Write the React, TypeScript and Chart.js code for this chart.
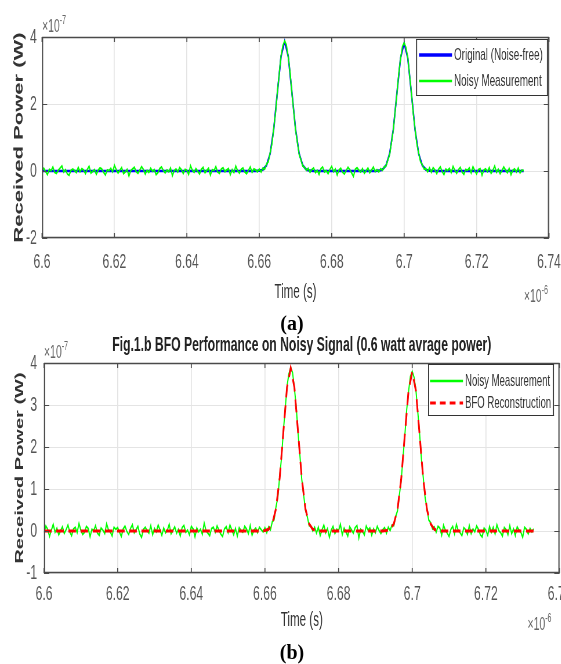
import React, { useEffect, useRef } from 'react';
import { Chart, registerables } from 'chart.js';

Chart.register(...registerables);

// ---------- data (power in units of 1e-7 W, time in units of 1e-6 s) ----------
const T_START = 6.6;
const STEP_NOISY = 0.0005;
const STEP_CLEAN = 0.001;

const xTickValues = [6.6, 6.62, 6.64, 6.66, 6.68, 6.7, 6.72, 6.74];
const xTickLabels = ['6.6', '6.62', '6.64', '6.66', '6.68', '6.7', '6.72', '6.74'];
const yTickValuesA = [-2, 0, 2, 4];
const yTickLabelsA = ['-2', '0', '2', '4'];
const yTickValuesB = [-1, 0, 1, 2, 3, 4];
const yTickLabelsB = ['-1', '0', '1', '2', '3', '4'];

const seriesLabelsA = ['Original (Noise-free)', 'Noisy Measurement'];
const seriesLabelsB = ['Noisy Measurement', 'BFO Reconstruction'];
const titleB = 'Fig.1.b BFO Performance on Noisy Signal (0.6 watt avrage power)';

const originalA = [
  0, 0, 0, 0, 0, 0, 0, 0, 0, 0,
  0, 0, 0, 0, 0, 0, 0, 0, 0, 0,
  0, 0, 0, 0, 0, 0, 0, 0, 0, 0,
  0, 0, 0, 0, 0, 0, 0, 0, 0, 0,
  0, 0, 0, 0, 0, 0, 0, 0, 0, 0,
  0, 0, 0, 0, 0, 0, 0, 0, 0, 0,
  0.01, 0.04, 0.17, 0.52, 1.26, 2.35, 3.42, 3.87, 3.42, 2.35, 1.26, 0.52, 0.17, 0.04, 0.01,
  0, 0, 0, 0, 0, 0, 0, 0, 0, 0, 0, 0, 0, 0, 0, 0, 0, 0,
  0.01, 0.04, 0.17, 0.52, 1.24, 2.32, 3.37, 3.82, 3.37, 2.32, 1.24, 0.52, 0.17, 0.04, 0.01,
  0, 0, 0, 0, 0, 0, 0, 0, 0, 0, 0, 0, 0,
  0, 0, 0, 0, 0, 0, 0, 0, 0, 0, 0, 0, 0,
];

const noisyA = [
  0.03, 0.08, -0.02, -0.11, 0.05, 0.01, 0.12, -0.04, -0.07, 0.02,
  0.09, 0.15, -0.03, 0.04, -0.09, -0.13, 0.02, 0.06, 0.01, -0.05,
  0.11, -0.02, 0.07, 0.03, -0.08, 0.05, 0.14, -0.06, -0.01, 0.04,
  -0.10, 0.02, 0.09, 0.06, -0.04, -0.12, 0.03, 0.01, 0.08, -0.03,
  0.17, 0.04, -0.06, 0.02, 0.10, -0.08, -0.03, 0.05, -0.15, 0.01,
  0.06, 0.11, -0.02, -0.07, 0.03, 0.13, 0.05, -0.09, 0.02, -0.04,
  0.08, -0.01, 0.04, -0.11, -0.05, 0.07, 0.12, 0.02, -0.06, 0.03,
  -0.02, 0.09, -0.14, 0.01, 0.06, -0.03, 0.10, 0.04, -0.08, 0.05,
  0.02, -0.10, 0.16, 0.03, -0.04, 0.07, -0.01, -0.09, 0.05, 0.11,
  -0.05, 0.02, 0.08, -0.12, 0.04, 0.01, 0.13, -0.03, -0.07, 0.06,
  0.10, -0.02, 0.03, 0.07, -0.11, 0.04, -0.05, 0.15, 0.01, -0.06,
  0.05, 0.09, -0.03, -0.08, 0.02, 0.12, -0.04, 0.06, 0.03, -0.02,
  0.06, -0.03, 0.09, 0.05, 0.21, 0.28, 0.55, 0.81, 1.29, 1.75,
  2.37, 2.90, 3.44, 3.74, 3.88, 3.76, 3.40, 2.94, 2.33, 1.79,
  1.24, 0.86, 0.50, 0.33, 0.15, 0.11, 0.02, 0.08, -0.04,
  0.04, 0.09, -0.05, 0.02, -0.10, 0.07, 0.12, -0.03, 0.01, -0.08,
  0.05, 0.14, -0.02, 0.06, -0.12, 0.03, 0.08, -0.04, -0.09, 0.02,
  0.11, 0.04, -0.06, -0.16, 0.05, 0.10, 0.02, -0.03, 0.07, -0.07,
  0.01, 0.09, -0.05, 0.03, 0.12, -0.02, 0.04,
  -0.03, 0.07, 0.02, 0.12, 0.15, 0.33, 0.49, 0.85, 1.22, 1.77,
  2.30, 2.90, 3.35, 3.71, 3.83, 3.69, 3.39, 2.86, 2.34, 1.73,
  1.26, 0.81, 0.54, 0.28, 0.19, 0.06, 0.07, -0.02, 0.09,
  -0.04, 0.10, 0.03, -0.08, 0.05, 0.12, -0.02, -0.11, 0.06, 0.01,
  0.08, -0.05, 0.14, 0.02, -0.07, 0.04, 0.11, -0.03, -0.10, 0.05,
  0.02, 0.09, -0.06, 0.13, 0.01, -0.09, 0.04, 0.07, -0.13, 0.03,
  0.06, -0.02, 0.10, -0.07, 0.02, 0.15, -0.04, 0.05, -0.08, 0.01,
  0.12, 0.03, -0.05, 0.08, -0.11, 0.02, 0.06, -0.03, 0.09, -0.06,
  0.03, 0.01,
];

const bfoB = [
  0, 0, 0, 0, 0, 0, 0, 0, 0, 0,
  0, 0, 0, 0, 0, 0, 0, 0, 0, 0,
  0, 0, 0, 0, 0, 0, 0, 0, 0, 0,
  0, 0, 0, 0, 0, 0, 0, 0, 0, 0,
  0, 0, 0, 0, 0, 0, 0, 0, 0, 0,
  0, 0, 0, 0, 0, 0, 0, 0, 0, 0,
  0.01, 0.04, 0.17, 0.53, 1.26, 2.35, 3.42, 3.88, 3.42, 2.35, 1.26, 0.53, 0.17, 0.04, 0.01,
  0, 0, 0, 0, 0, 0, 0, 0, 0, 0, 0, 0, 0, 0, 0, 0, 0, 0,
  0.01, 0.04, 0.17, 0.51, 1.23, 2.30, 3.34, 3.79, 3.34, 2.30, 1.23, 0.51, 0.17, 0.04, 0.01,
  0, 0, 0, 0, 0, 0, 0, 0, 0, 0, 0, 0, 0,
  0, 0, 0, 0, 0, 0, 0, 0, 0, 0, 0, 0, 0,
];

const noisyB = [
  -0.05, 0.12, 0.04, -0.13, 0.02, 0.16, -0.03, 0.07, -0.09, 0.01,
  0.10, -0.06, 0.03, 0.14, -0.02, -0.11, 0.05, 0.09, -0.04, 0.18,
  0.02, -0.08, -0.03, 0.11, 0.06, -0.14, 0.04, 0.01, 0.13, -0.05,
  -0.10, 0.07, 0.02, -0.06, 0.17, 0.03, -0.02, -0.12, 0.09, 0.04,
  0.08, -0.03, -0.13, 0.05, 0.12, -0.01, -0.08, 0.06, 0.15, -0.04,
  0.03, 0.11, -0.07, -0.15, 0.04, 0.09, 0.01, -0.05, 0.13, -0.09,
  0.06, -0.02, 0.14, 0.03, -0.10, 0.07, -0.04, 0.02, 0.16, -0.07,
  0.01, 0.10, -0.05, 0.04, -0.12, 0.08, 0.13, -0.03, 0.02, -0.09,
  0.11, 0.05, -0.14, 0.07, -0.02, 0.04, -0.08, 0.19, 0.01, -0.05,
  -0.11, 0.06, 0.09, -0.03, 0.12, 0.02, -0.07, -0.13, 0.05, 0.10,
  -0.04, 0.14, 0.03, -0.09, 0.06, -0.12, 0.08, 0.01, -0.03, 0.11,
  0.05, -0.06, 0.13, -0.10, 0.02, 0.07, -0.04, 0.09, 0.03, -0.02,
  0.08, -0.04, 0.10, 0.03, 0.22, 0.27, 0.57, 0.80, 1.30, 1.74,
  2.38, 2.91, 3.45, 3.74, 3.89, 3.77, 3.40, 2.95, 2.32, 1.80,
  1.23, 0.87, 0.50, 0.34, 0.13, 0.12, 0.00, 0.09, -0.05,
  0.09, -0.11, 0.03, 0.14, -0.04, 0.06, -0.15, 0.02, 0.11, -0.06,
  0.04, 0.01, 0.16, -0.09, 0.07, -0.02, -0.12, 0.10, 0.03, -0.05,
  0.08, 0.13, -0.17, 0.04, -0.01, -0.09, 0.12, 0.02, 0.07, -0.10,
  0.05, -0.04, 0.11, 0.01, -0.06, 0.03, 0.08,
  -0.05, 0.09, 0.01, 0.14, 0.13, 0.34, 0.48, 0.85, 1.20, 1.76,
  2.28, 2.89, 3.32, 3.68, 3.80, 3.66, 3.36, 2.84, 2.33, 1.71,
  1.27, 0.79, 0.55, 0.26, 0.20, 0.05, 0.10, -0.03, 0.11,
  0.07, -0.10, 0.14, 0.02, -0.05, -0.13, 0.04, 0.11, -0.07, 0.16,
  0.01, -0.04, -0.11, 0.08, 0.03, -0.08, 0.13, -0.06, 0.05, -0.02,
  0.12, 0.04, -0.09, -0.14, 0.07, 0.02, -0.10, 0.11, -0.03, 0.09,
  -0.07, 0.15, 0.01, -0.04, -0.12, 0.08, 0.03, -0.09, 0.13, -0.06,
  0.05, -0.11, 0.10, 0.02, -0.03, -0.15, 0.09, 0.04, -0.07, 0.06,
  -0.02, 0.05,
];

// ---------- layout ----------
const SQUEEZE = 0.58; // the figure is horizontally compressed
const INNER_W = 967;
const FONT = '"Liberation Sans", Arial, Helvetica, sans-serif';
const H_A = 312;
const H_B = 352;

const toPoints = (vals: number[], step: number) =>
  vals.map((v, i) => ({ x: T_START + i * step, y: v }));

function drawExp(ctx: CanvasRenderingContext2D, x: number, y: number, align: string, exp: string) {
  ctx.font = `18px ${FONT}`;
  const w1 = ctx.measureText('\u00d710').width;
  ctx.font = `12px ${FONT}`;
  const w2 = ctx.measureText(exp).width;
  const start = align === 'right' ? x - w1 - w2 : x;
  ctx.textAlign = 'left';
  ctx.textBaseline = 'alphabetic';
  ctx.fillStyle = '#666';
  ctx.font = `18px ${FONT}`;
  ctx.fillText('\u00d710', start, y);
  ctx.font = `12px ${FONT}`;
  ctx.fillText(exp, start + w1, y - 8);
}

const decoPlugin = {
  id: 'deco',
  afterDatasetsDraw(chart: any, _args: any, _opts: any) {
    const { ctx, chartArea: a, scales } = chart;
    ctx.save();
    ctx.strokeStyle = '#4a4a4a';
    ctx.lineWidth = 1.7;
    scales.x.ticks.forEach((t: any) => {
      const px = scales.x.getPixelForValue(t.value);
      ctx.beginPath();
      ctx.moveTo(px, a.top);
      ctx.lineTo(px, a.top + 5);
      ctx.moveTo(px, a.bottom);
      ctx.lineTo(px, a.bottom - 5);
      ctx.stroke();
    });
    ctx.lineWidth = 1;
    scales.y.ticks.forEach((t: any) => {
      const py = Math.round(scales.y.getPixelForValue(t.value)) + 0.5;
      ctx.beginPath();
      ctx.moveTo(a.left, py);
      ctx.lineTo(a.left + 9, py);
      ctx.moveTo(a.right, py);
      ctx.lineTo(a.right - 9, py);
      ctx.stroke();
    });
    ctx.lineWidth = 1.3;
    ctx.beginPath();
    ctx.moveTo(a.left, a.top + 0.5);
    ctx.lineTo(a.right, a.top + 0.5);
    ctx.moveTo(a.left, a.bottom - 0.5);
    ctx.lineTo(a.right, a.bottom - 0.5);
    ctx.stroke();
    ctx.lineWidth = 2;
    ctx.beginPath();
    ctx.moveTo(a.left + 1, a.top);
    ctx.lineTo(a.left + 1, a.bottom);
    ctx.moveTo(a.right - 1, a.top);
    ctx.lineTo(a.right - 1, a.bottom);
    ctx.stroke();
    ctx.restore();
  },
  afterDraw(chart: any, _args: any, opts: any) {
    const { ctx, chartArea: a } = chart;
    ctx.save();
    drawExp(ctx, a.left, a.top - 5, 'left', opts.expY);
    drawExp(ctx, a.right + opts.expXdx, a.bottom + opts.expXdy, 'right', opts.expX);
    if (opts.title) {
      ctx.font = `bold 21px ${FONT}`;
      ctx.fillStyle = '#222';
      ctx.textAlign = 'center';
      ctx.textBaseline = 'middle';
      ctx.fillText(opts.title, (a.left + a.right) / 2, a.top - 18);
    }
    const L = opts.legend;
    ctx.fillStyle = '#fff';
    ctx.fillRect(L.x, L.y, L.w, L.h);
    ctx.strokeStyle = '#333';
    ctx.lineWidth = 1.2;
    ctx.beginPath();
    ctx.moveTo(L.x, L.y + 0.5);
    ctx.lineTo(L.x + L.w, L.y + 0.5);
    ctx.moveTo(L.x, L.y + L.h - 0.5);
    ctx.lineTo(L.x + L.w, L.y + L.h - 0.5);
    ctx.stroke();
    ctx.lineWidth = 1.8;
    ctx.beginPath();
    ctx.moveTo(L.x + 1, L.y);
    ctx.lineTo(L.x + 1, L.y + L.h);
    ctx.moveTo(L.x + L.w - 1, L.y);
    ctx.lineTo(L.x + L.w - 1, L.y + L.h);
    ctx.stroke();
    chart.data.datasets.forEach((ds: any, i: number) => {
      const ry = L.rows[i];
      ctx.save();
      ctx.strokeStyle = ds.borderColor;
      ctx.lineWidth = ds.legendWidth || ds.borderWidth;
      ctx.setLineDash(ds.legendDash || []);
      ctx.beginPath();
      ctx.moveTo(L.sx0, ry);
      ctx.lineTo(L.sx1, ry);
      ctx.stroke();
      ctx.restore();
      ctx.font = `${L.font}px ${FONT}`;
      ctx.fillStyle = '#333';
      ctx.textAlign = 'left';
      ctx.textBaseline = 'middle';
      ctx.fillText(ds.label, L.tx, ry);
    });
    ctx.restore();
  },
};

function makeConfig(p: any) {
  return {
    type: 'line',
    data: { datasets: p.datasets },
    plugins: [decoPlugin],
    options: {
      responsive: false,
      animation: false,
      devicePixelRatio: 1,
      events: [],
      layout: { padding: { left: 0, right: p.padRight, top: p.padTop, bottom: 0 } },
      elements: { point: { radius: 0 }, line: { tension: 0 } },
      plugins: {
        legend: { display: false },
        tooltip: { enabled: false },
        deco: p.deco,
      },
      scales: {
        x: {
          type: 'linear',
          min: xTickValues[0],
          max: xTickValues[xTickValues.length - 1],
          afterBuildTicks: (s: any) => {
            s.ticks = xTickValues.map((v) => ({ value: v }));
          },
          afterFit: (s: any) => {
            s.height = p.xHeight;
            s.paddingLeft = 0;
            s.paddingRight = 0;
          },
          grid: { color: '#e4e4e4', lineWidth: 1.7, drawTicks: false },
          border: { display: false },
          ticks: {
            autoSkip: false,
            maxRotation: 0,
            padding: p.xTickPad,
            color: '#555',
            font: { family: FONT, size: 21 },
            callback: (_v: any, i: number) => xTickLabels[i],
          },
          title: {
            display: true,
            text: 'Time (s)',
            color: '#333',
            font: { family: FONT, size: 20 },
            padding: { top: 0, bottom: p.xTitlePad },
          },
        },
        y: {
          type: 'linear',
          min: p.yTicks[0],
          max: p.yTicks[p.yTicks.length - 1],
          afterBuildTicks: (s: any) => {
            s.ticks = p.yTicks.map((v: number) => ({ value: v }));
          },
          afterFit: (s: any) => {
            s.width = p.yWidth;
          },
          grid: { color: '#e4e4e4', lineWidth: 1, drawTicks: false },
          border: { display: false },
          ticks: {
            padding: p.yTickPad,
            color: '#555',
            font: { family: FONT, size: 21 },
            callback: (_v: any, i: number) => p.yLabels[i],
          },
          title: {
            display: true,
            text: 'Received Power (W)',
            color: '#333',
            font: { family: FONT, size: p.yTitleSize, weight: 'bold' },
            padding: { top: p.yTitlePad, bottom: 0 },
          },
        },
      },
    },
  };
}

export default function App() {
  const refA = useRef<HTMLCanvasElement>(null);
  const refB = useRef<HTMLCanvasElement>(null);

  useEffect(() => {
    const cfgA = makeConfig({
      datasets: [
        {
          label: seriesLabelsA[0],
          data: toPoints(originalA, STEP_CLEAN),
          borderColor: '#0000ff',
          borderWidth: 2.6,
          legendWidth: 3.5,
          order: 2,
        },
        {
          label: seriesLabelsA[1],
          data: toPoints(noisyA, STEP_NOISY),
          borderColor: '#00ff00',
          borderWidth: 2,
          legendWidth: 2.5,
          order: 1,
        },
      ],
      padTop: 37,
      padRight: INNER_W - 549 / SQUEEZE,
      yWidth: 42 / SQUEEZE,
      xHeight: H_A - 238,
      xTickPad: 11.5,
      xTitlePad: 8,
      yTickPad: 9,
      yTitleSize: 22,
      yTitlePad: 19.5,
      yTicks: yTickValuesA,
      yLabels: yTickLabelsA,
      deco: {
        expY: '-7',
        expX: '-6',
        expXdx: -2,
        expXdy: 64,
        legend: {
          x: 416 / SQUEEZE, y: 39, w: 132 / SQUEEZE, h: 57,
          rows: [55, 81],
          sx0: 419 / SQUEEZE, sx1: 452 / SQUEEZE, tx: 454 / SQUEEZE,
          font: 17,
        },
      },
    });
    const cfgB = makeConfig({
      datasets: [
        {
          label: seriesLabelsB[0],
          data: toPoints(noisyB, STEP_NOISY),
          borderColor: '#00ff00',
          borderWidth: 2,
          legendWidth: 2.5,
          order: 2,
        },
        {
          label: seriesLabelsB[1],
          data: toPoints(bfoB, STEP_CLEAN),
          borderColor: '#ff0000',
          borderWidth: 3,
          borderDash: [13, 8],
          legendDash: [10, 7],
          order: 1,
        },
      ],
      padTop: 363 - 312,
      padRight: INNER_W - 559.5 / SQUEEZE,
      yWidth: 44 / SQUEEZE,
      xHeight: H_B - (573 - 312),
      xTickPad: 9,
      xTitlePad: 32,
      yTickPad: 12,
      yTitleSize: 20,
      yTitlePad: 22.5,
      yTicks: yTickValuesB,
      yLabels: yTickLabelsB,
      deco: {
        expY: '-7',
        expX: '-6',
        expXdx: -14,
        expXdy: 57,
        title: titleB,
        legend: {
          x: 428 / SQUEEZE, y: 364 - 312, w: 126 / SQUEEZE, h: 52,
          rows: [381 - 312, 403 - 312],
          sx0: 430 / SQUEEZE, sx1: 463 / SQUEEZE, tx: 465 / SQUEEZE,
          font: 16.5,
        },
      },
    });
    const ca = new Chart(refA.current as HTMLCanvasElement, cfgA as any);
    const cb = new Chart(refB.current as HTMLCanvasElement, cfgB as any);
    return () => {
      ca.destroy();
      cb.destroy();
    };
  }, []);

  const panel = (top: number, h: number): React.CSSProperties => ({
    position: 'absolute',
    left: 0,
    top,
    width: INNER_W,
    height: h,
    transform: `scaleX(${SQUEEZE})`,
    transformOrigin: '0 0',
  });
  const tag = (top: number): React.CSSProperties => ({
    position: 'absolute',
    left: 292,
    top,
    transform: 'translate(-50%, -50%)',
    font: 'bold 20px "Liberation Serif", "Times New Roman", serif',
    color: '#000',
    lineHeight: 1,
    zIndex: 2,
  });

  return (
    <div style={{ position: 'absolute', left: 0, top: 0, width: 561, height: 664, overflow: 'hidden', background: '#fff' }}>
      <div style={panel(0, H_A)}>
        <canvas ref={refA} width={INNER_W} height={H_A} style={{ display: 'block' }} />
      </div>
      <div style={panel(312, H_B)}>
        <canvas ref={refB} width={INNER_W} height={H_B} style={{ display: 'block' }} />
      </div>
      <div style={tag(323)}>(a)</div>
      <div style={tag(652)}>(b)</div>
    </div>
  );
}
